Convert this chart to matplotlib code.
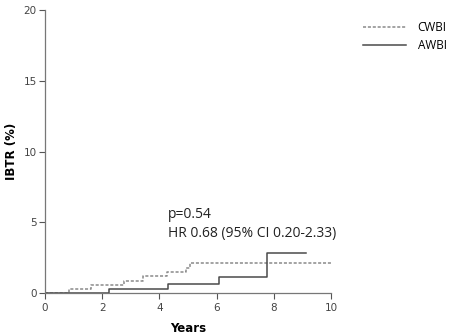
import matplotlib
matplotlib.use("Agg")
import matplotlib.pyplot as plt

# Kaplan-Meier style step data (years, cumulative IBTR %)
CWBI_T = [0, 0.85, 1.6, 2.75, 3.41, 4.27, 4.91, 5.05, 10.0]
CWBI_Y = [0, 0.25, 0.59, 0.85, 1.18, 1.46, 1.8, 2.12, 2.12]
AWBI_T = [0, 2.22, 4.3, 6.08, 7.74, 9.12]
AWBI_Y = [0, 0.26, 0.61, 1.13, 2.83, 2.83]

X_TICKS = [0, 2, 4, 6, 8, 10]
Y_TICKS = [0, 5, 10, 15, 20]

ANNOT = ["p=0.54", "HR 0.68 (95% CI 0.20-2.33)"]

fig = plt.figure(figsize=(4.5, 3.36), dpi=100)
ax = fig.add_axes([0.1, 0.128, 0.636, 0.842])

ax.step(CWBI_T, CWBI_Y, where="post", color="#8a8a8a", ls=(0, (2, 1.2)), lw=1.1, label="CWBI")
ax.step(AWBI_T, AWBI_Y, where="post", color="#4a4a4a", lw=1.1, label="AWBI")

ax.set_xlim(0, 10)
ax.set_ylim(0, 20)
ax.set_xticks(X_TICKS)
ax.set_yticks(Y_TICKS)
ax.tick_params(labelsize=7.5, labelcolor="#444444", color="#555555", length=4, width=0.8)
ax.tick_params(axis="y", pad=2)
for s in ["top", "right"]:
    ax.spines[s].set_visible(False)
for s in ["left", "bottom"]:
    ax.spines[s].set_color("#777777")
    ax.spines[s].set_linewidth(0.9)

ax.set_xlabel("Years", fontsize=8.5, fontweight="bold", labelpad=6)
ax.set_ylabel("IBTR (%)", fontsize=8.5, fontweight="bold")
ax.yaxis.set_label_coords(-0.095, 0.5)

ax.text(4.3, 5.55, ANNOT[0], fontsize=10, family="Open Sans", color="#222222", va="center")
ax.text(4.3, 4.2, ANNOT[1], fontsize=10, family="Open Sans", color="#222222", va="center")

leg = ax.legend(loc="upper left", bbox_to_anchor=(1.075, 1.0), frameon=False,
                prop={"family": "Open Sans", "size": 8.5}, handlelength=3.6,
                handletextpad=1.0, labelspacing=0.45)

fig.savefig("out.png", dpi=100)
